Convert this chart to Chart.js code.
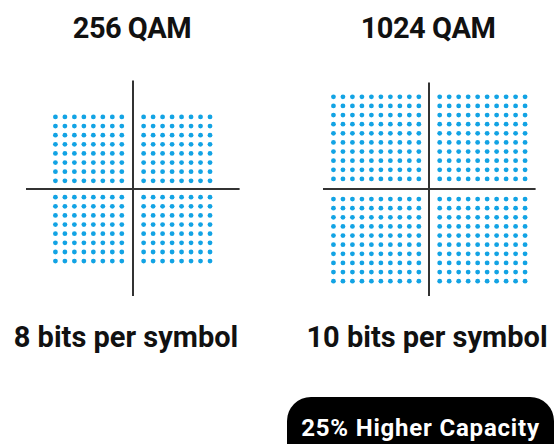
<!DOCTYPE html>
<html>
<head>
<meta charset="utf-8">
<script src="https://cdn.jsdelivr.net/npm/chart.js@4/dist/chart.umd.min.js"></script>
<style>
  html, body { margin: 0; padding: 0; background: #ffffff; }
  body { width: 555px; height: 444px; position: relative; overflow: hidden; font-family: Roboto, "Open Sans", sans-serif; }
  .box { position: absolute; }
  .txt { position: absolute; text-align: center; font-weight: 700; color: #111; white-space: nowrap; }
  .title { font-size: 29px; line-height: 29px; width: 240px; letter-spacing: -0.5px; }
  .cap { font-size: 29px; line-height: 29px; width: 280px; }
  #badge { position: absolute; left: 287px; top: 397px; width: 267px; height: 70px; background: #000; border-radius: 24px; }
  #badgeTxt { position: absolute; left: 287px; width: 267px; top: 416px; font-size: 24px; line-height: 24px; color: #fff; text-align: center; font-weight: 700; letter-spacing: 0.8px; white-space: nowrap; }
</style>
</head>
<body>
<div class="box" id="b1" style="left:24px;top:78px;width:218px;height:220px;"><canvas id="c1"></canvas></div>
<div class="box" id="b2" style="left:321px;top:80px;width:217px;height:218px;"><canvas id="c2"></canvas></div>
<div class="txt title" id="t1" style="left:12px;top:14px;"></div>
<div class="txt title" id="t2" style="left:308px;top:14px;"></div>
<div class="txt cap" id="s1" style="left:-14px;top:323px;"></div>
<div class="txt cap" id="s2" style="left:287px;top:323px;"></div>
<div id="badge"></div>
<div id="badgeTxt"></div>
<script>
// ---- data ----
const categories = ['256 QAM', '1024 QAM'];
const bitsPerSymbol = [8, 10];
const badgeLabel = '25% Higher Capacity';
// In-phase (I) and quadrature (Q) levels, in grid steps
const iLevels256 = [-8.15, -7.15, -6.15, -5.15, -4.15, -3.15, -2.15, -1.15, 1.15, 2.15, 3.15, 4.15, 5.15, 6.15, 7.15, 8.15];
const qLevels256 = [-7.9, -6.9, -5.9, -4.9, -3.9, -2.9, -1.9, -0.9, 0.9, 1.9, 2.9, 3.9, 4.9, 5.9, 6.9, 7.9];
const iLevels1024 = [-10.1, -9.1, -8.1, -7.1, -6.1, -5.1, -4.1, -3.1, -2.1, -1.1, 1.1, 2.1, 3.1, 4.1, 5.1, 6.1, 7.1, 8.1, 9.1, 10.1];
const qLevels1024 = [-10.1, -9.1, -8.1, -7.1, -6.1, -5.1, -4.1, -3.1, -2.1, -1.1, 1.1, 2.1, 3.1, 4.1, 5.1, 6.1, 7.1, 8.1, 9.1, 10.1];

function constellation(iL, qL) {
  const pts = [];
  for (const q of qL) for (const i of iL) pts.push({ x: i, y: q });
  return pts;
}

function axisOpts(min, max) {
  return {
    type: 'linear', min: min, max: max, display: true,
    afterBuildTicks: (axis) => { axis.ticks = [{ value: 0 }]; },
    ticks: { display: false },
    border: { display: false },
    grid: { drawTicks: false, color: '#333333', lineWidth: 2 }
  };
}

function makeChart(id, iL, qL, xr, yr) {
  return new Chart(document.getElementById(id), {
    type: 'scatter',
    data: { datasets: [{ data: constellation(iL, qL), pointRadius: 2.4, pointHoverRadius: 2.4, pointBackgroundColor: '#12a3e4', pointBorderWidth: 0 }] },
    options: {
      responsive: true, maintainAspectRatio: false, animation: false,
      layout: { padding: 0 },
      plugins: { legend: { display: false }, tooltip: { enabled: false } },
      events: [],
      scales: { x: axisOpts(xr[0], xr[1]), y: axisOpts(yr[0], yr[1]) }
    }
  });
}

makeChart('c1', iLevels256, qLevels256, [-11.21, 11.27], [-11.68, 11.9]);
makeChart('c2', iLevels1024, qLevels1024, [-11.16, 11.21], [-11.68, 11.68]);

document.getElementById('t1').textContent = categories[0];
document.getElementById('t2').textContent = categories[1];
document.getElementById('s1').textContent = bitsPerSymbol[0] + ' bits per symbol';
document.getElementById('s2').textContent = bitsPerSymbol[1] + ' bits per symbol';
document.getElementById('badgeTxt').textContent = badgeLabel;
</script>
</body>
</html>
